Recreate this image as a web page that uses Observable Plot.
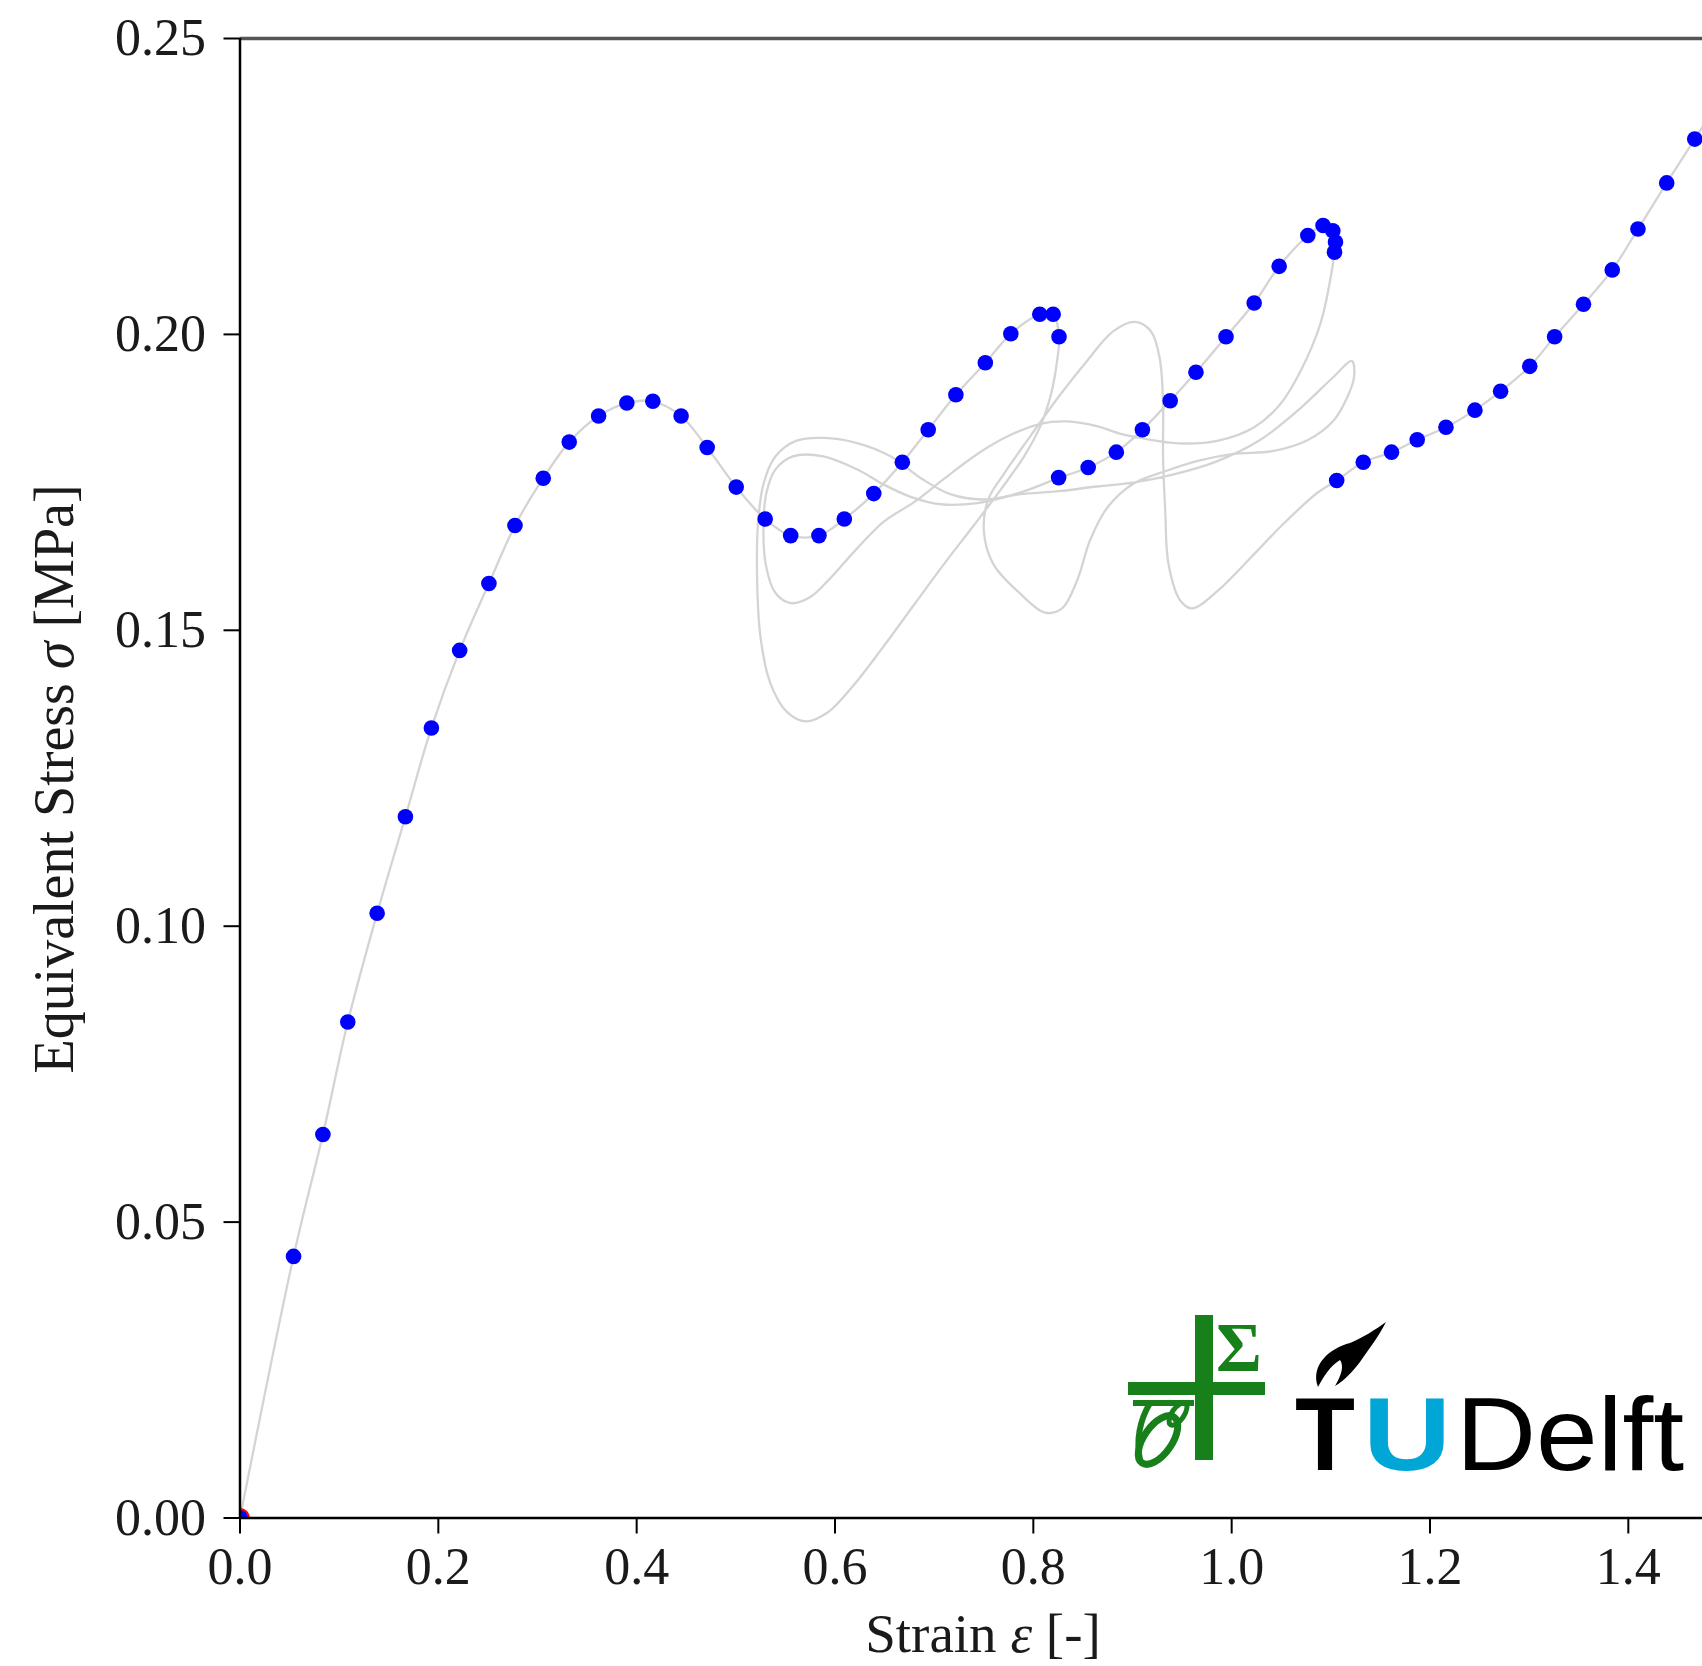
<!DOCTYPE html>
<html>
<head>
<meta charset="utf-8">
<script src="https://cdn.jsdelivr.net/npm/d3@7"></script>
<script src="https://cdn.jsdelivr.net/npm/@observablehq/plot@0.6"></script>
<style>
  html, body { margin: 0; padding: 0; background: #fff; }
  #wrap { position: relative; width: 1702px; height: 1666px; overflow: hidden; background: #fff; }
  #wrap svg { position: absolute; left: 0; top: 0; }
  .lbl { position: absolute; font-family: "Liberation Serif", serif; line-height: 1; color: #1a1a1a; white-space: nowrap; }
</style>
</head>
<body>
<div id="wrap"></div>
<script>
// ---- Data (strain [-], stress [MPa]) ----
// First ascending branch (blue points)
const branch1Strain = [0.0000,0.0540,0.0836,0.1087,0.1383,0.1668,0.1930,0.2215,0.2510,0.2773,0.3058,0.3320,0.3616,0.3901,0.4163,0.4448,0.4711,0.5004,0.5296,0.5553,0.5838,0.6094,0.6391,0.6679,0.6940,0.7219,0.7516,0.7773,0.8065,0.8200,0.8259];
const branch1Stress = [0.0000,0.0442,0.0648,0.0838,0.1022,0.1185,0.1335,0.1466,0.1579,0.1677,0.1757,0.1818,0.1862,0.1884,0.1887,0.1862,0.1809,0.1742,0.1688,0.1660,0.1660,0.1688,0.1731,0.1784,0.1839,0.1898,0.1952,0.2001,0.2034,0.2034,0.1996];
// Second branch (blue points)
const branch2Strain = [0.8255,0.8553,0.8837,0.9100,0.9380,0.9640,0.9943,1.0227,1.0479,1.0768,1.0922,1.1020,1.1047,1.1037];
const branch2Stress = [0.1758,0.1775,0.1801,0.1839,0.1888,0.1936,0.1996,0.2053,0.2115,0.2167,0.2184,0.2175,0.2156,0.2139];
// Third branch (blue points)
const branch3Strain = [1.1059,1.1327,1.1612,1.1871,1.2161,1.2453,1.2712,1.3006,1.3257,1.3548,1.3838,1.4097,1.4387,1.4670];
const branch3Stress = [0.1753,0.1784,0.1801,0.1822,0.1843,0.1872,0.1904,0.1946,0.1996,0.2051,0.2109,0.2178,0.2256,0.2330];
// Grey trace continuing past the cropped right edge
const tailStrain = [1.4955];
const tailStress = [0.2405];
// Grey path loops between the first and third branch
const loop1Strain = [0.8235,0.8180,0.8071,0.7907,0.7677,0.7403,0.7108,0.6801,0.6473,0.6177,0.5925,0.5707,0.5510,0.5345,0.5247,0.5214,0.5225,0.5280,0.5400,0.5608,0.5882,0.6232,0.6560,0.6867,0.7162,0.7491,0.7874,0.8257,0.8640,0.9023,0.9406,0.9844,1.0282,1.0698,1.1026,1.1212,1.1234,1.1169,1.1026,1.0764,1.0424,1.0019,0.9680,0.9351,0.9012,0.8749,0.8574,0.8443,0.8290,0.8115,0.7874,0.7600,0.7502,0.7545,0.7710,0.7983,0.8257,0.8531,0.8804,0.9023,0.9187,0.9275,0.9308,0.9308,0.9330,0.9363,0.9483,0.9603,0.9855,1.0194,1.0523,1.0862];
const loop1Stress = [0.1950,0.1900,0.1845,0.1794,0.1739,0.1678,0.1614,0.1544,0.1469,0.1405,0.1361,0.1346,0.1363,0.1412,0.1491,0.1592,0.1684,0.1748,0.1794,0.1820,0.1825,0.1816,0.1794,0.1757,0.1730,0.1721,0.1730,0.1735,0.1743,0.1750,0.1763,0.1785,0.1821,0.1876,0.1928,0.1955,0.1928,0.1895,0.1854,0.1821,0.1803,0.1798,0.1787,0.1770,0.1748,0.1708,0.1653,0.1585,0.1537,0.1530,0.1561,0.1611,0.1666,0.1721,0.1766,0.1831,0.1895,0.1953,0.2005,0.2021,0.2005,0.1959,0.1886,0.1794,0.1702,0.1612,0.1550,0.1537,0.1566,0.1623,0.1680,0.1732];
// Grey path loops from the second peak back round to the start of the second branch
const loop2Strain = [1.0993,1.0895,1.0698,1.0490,1.0227,0.9855,0.9461,0.9078,0.8881,0.8640,0.8344,0.8071,0.7732,0.7436,0.7108,0.6801,0.6495,0.6221,0.5925,0.5739,0.5553,0.5400,0.5302,0.5280,0.5312,0.5400,0.5575,0.5882,0.6221,0.6495,0.6757,0.7064,0.7436,0.7874];
const loop2Stress = [0.2091,0.2018,0.1939,0.1882,0.1843,0.1820,0.1816,0.1825,0.1832,0.1845,0.1853,0.1849,0.1827,0.1798,0.1757,0.1717,0.1684,0.1638,0.1583,0.1555,0.1546,0.1563,0.1611,0.1684,0.1735,0.1772,0.1794,0.1794,0.1772,0.1746,0.1726,0.1713,0.1715,0.1733];
// Current state marker
const currentStrain = [0];
const currentStress = [0];

const xTicks = [0, 0.2, 0.4, 0.6, 0.8, 1.0, 1.2, 1.4];
const yTicks = [0, 0.05, 0.10, 0.15, 0.20, 0.25];

// ---- Build tables ----
const zip = (xs, ys, seg) => xs.map((x, i) => ({strain: x, stress: ys[i], seg}));
const pathA = [
  ...zip(branch1Strain, branch1Stress, "a"),
  ...zip(loop1Strain, loop1Stress, "a"),
  ...zip(branch3Strain, branch3Stress, "a"),
  ...zip(tailStrain, tailStress, "a")
];
const pathB = [
  ...zip(branch2Strain, branch2Stress, "b"),
  ...zip(loop2Strain, loop2Stress, "b"),
  ...zip([branch2Strain[0]], [branch2Stress[0]], "b")
];
const greyPath = [...pathA, ...pathB];
const points = [
  ...zip(branch1Strain, branch1Stress, "p"),
  ...zip(branch2Strain, branch2Stress, "p"),
  ...zip(branch3Strain, branch3Stress, "p")
];
const current = zip(currentStrain, currentStress, "c");

const plot = Plot.plot({
  width: 1702,
  height: 1666,
  marginLeft: 239.5,
  marginRight: 0,
  marginTop: 38,
  marginBottom: 148.5,
  style: {fontFamily: "'Liberation Serif', serif", fontSize: "52px", color: "#1a1a1a", background: "white"},
  x: {domain: [0, 1.4748]},
  y: {domain: [0, 0.25]},
  marks: [
    Plot.line(greyPath, {x: "strain", y: "stress", z: "seg", stroke: "#d4d4d4", strokeWidth: 2.3, curve: "catmull-rom", clip: true}),
    Plot.dot(current, {x: "strain", y: "stress", r: 10, fill: "#ff0000", clip: true}),
    Plot.dot(points, {x: "strain", y: "stress", r: 7.8, fill: "#0000ff", clip: true}),
    Plot.ruleY([0.25], {stroke: "#555", strokeWidth: 3.5}),
    Plot.ruleX([0], {stroke: "#000", strokeWidth: 2.5}),
    Plot.ruleY([0], {stroke: "#000", strokeWidth: 2.5}),
    Plot.axisX(xTicks, {tickSize: 16, tickPadding: 13, tickFormat: d3.format(".1f"), strokeWidth: 2, stroke: "#000", label: null}),
    Plot.axisY(yTicks, {tickSize: 16, tickPadding: 18, tickFormat: d3.format(".2f"), strokeWidth: 2, stroke: "#000", label: null})
  ]
});

const wrap = document.getElementById("wrap");
wrap.appendChild(plot);

// ---- Logos (decoration) ----
const svg = d3.select(plot);
const g = svg.append("g").attr("text-anchor", "start");
const green = "#17801a";
g.append("rect").attr("x", 1195).attr("y", 1315).attr("width", 18).attr("height", 145).attr("fill", green);
g.append("rect").attr("x", 1128).attr("y", 1382).attr("width", 137).attr("height", 13).attr("fill", green);
g.append("text").attr("x", 1216).attr("y", 1371).attr("text-anchor", "start")
  .attr("font-family", "'Liberation Serif', serif").attr("font-weight", "bold").attr("font-size", 70)
  .attr("fill", green).text("Σ");
g.append("ellipse").attr("cx", 1158).attr("cy", 1440).attr("rx", 14).attr("ry", 28)
  .attr("transform", "rotate(35 1158 1440)").attr("fill", "none").attr("stroke", green).attr("stroke-width", 7);
g.append("ellipse").attr("cx", 1178).attr("cy", 1414).attr("rx", 6).attr("ry", 13)
  .attr("transform", "rotate(35 1178 1414)").attr("fill", "none").attr("stroke", green).attr("stroke-width", 5);
g.append("path").attr("d", "M1133,1403 L1194,1403 M1150,1403 C1140,1420 1136,1440 1140,1460")
  .attr("fill", "none").attr("stroke", green).attr("stroke-width", 6);
g.append("path")
  .attr("d", "M1318,1387 C1310,1365 1330,1348 1350,1343 C1362,1338 1375,1330 1386,1322 C1378,1338 1368,1350 1360,1362 C1352,1372 1345,1380 1335,1386 C1342,1374 1344,1366 1340,1360 C1330,1366 1324,1376 1318,1387 Z")
  .attr("fill", "#000");
const logoStyle = (sel) => sel.attr("y", 1470).attr("text-anchor", "start")
  .attr("font-family", "'Liberation Sans', Arial, sans-serif").attr("font-size", 104)
  .attr("lengthAdjust", "spacingAndGlyphs");
logoStyle(g.append("text")).attr("x", 1295).attr("textLength", 60).attr("font-weight", "bold").attr("fill", "#000").text("T");
logoStyle(g.append("text")).attr("x", 1363).attr("textLength", 88).attr("font-weight", "bold").attr("fill", "#00a6d6").text("U");
logoStyle(g.append("text")).attr("x", 1456).attr("textLength", 228).attr("fill", "#000").text("Delft");

// ---- Axis titles ----
const xl = document.createElement("div");
xl.className = "lbl";
xl.style.fontSize = "55px";
xl.innerHTML = "Strain <i>ε</i> [-]";
xl.style.left = "983px";
xl.style.top = "1606px";
xl.style.transform = "translateX(-50%)";
wrap.appendChild(xl);

const yl = document.createElement("div");
yl.className = "lbl";
yl.style.fontSize = "56px";
yl.innerHTML = "Equivalent Stress <i>σ</i> [MPa]";
yl.style.left = "54px";
yl.style.top = "779px";
yl.style.transform = "translate(-50%, -50%) rotate(-90deg)";
wrap.appendChild(yl);
</script>
</body>
</html>
